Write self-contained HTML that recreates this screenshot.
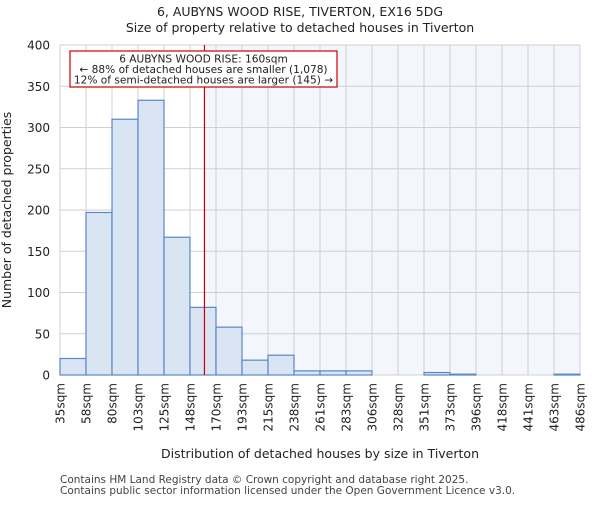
<!DOCTYPE html>
<html><head><meta charset="utf-8"><style>
body{margin:0;background:#fff;font-family:"Liberation Sans","DejaVu Sans",sans-serif}
</style></head><body>
<svg id="c" width="600" height="500" xmlns="http://www.w3.org/2000/svg" font-family="DejaVu Sans, Liberation Sans, sans-serif"></svg>
<script>
const labels=["35sqm","58sqm","80sqm","103sqm","125sqm","148sqm","170sqm","193sqm","215sqm","238sqm","261sqm","283sqm","306sqm","328sqm","351sqm","373sqm","396sqm","418sqm","441sqm","463sqm","486sqm"];
const counts=[20,197,310,333,167,82,58,18,24,5,5,5,0,0,3,1,0,0,0,1];
const yTicks=[0,50,100,150,200,250,300,350,400];
const marker=160;
const edges=[35,57.5,80,102.5,125,147.5,170,192.5,215,237.5,260,282.5,305,327.5,350,372.5,395,417.5,440,462.5,485];
const L=60,R=580,T=45,B=375,N=counts.length,bw=(R-L)/N;
const ns="http://www.w3.org/2000/svg",s=document.getElementById('c');
function el(t,a,txt){const e=document.createElementNS(ns,t);for(const k in a)e.setAttribute(k,a[k]);if(txt!==undefined)e.textContent=txt;s.appendChild(e);return e;}
const y=v=>B-(v/400)*(B-T);
const xi=i=>L+i*bw;
function xv(v){for(let i=0;i<edges.length-1;i++){if(v<=edges[i+1])return xi(i)+(v-edges[i])/(edges[i+1]-edges[i])*bw;}return R;}
const mx=xv(marker);
let e=el('rect',{x:mx,y:T,width:R-mx,height:B-T,fill:'#f3f6fd'});


for(let i=0;i<=N;i++){e=el('line',{x1:xi(i),x2:xi(i),y1:T,y2:B,stroke:'#d0d0d0','stroke-width':1});

}
yTicks.forEach(t=>{e=el('line',{x1:L,x2:R,y1:y(t),y2:y(t),stroke:'#d0d0d0','stroke-width':1});


e=el('text',{x:L-10,y:y(t)+4.5,'text-anchor':'end','font-size':12,fill:'#222'},t);

});
counts.forEach((c,i)=>{e=el('rect',{x:xi(i),y:y(c),width:bw,height:B-y(c),fill:'#dae5f4',stroke:'#5a86c8','stroke-width':1.2});

});
labels.forEach((l,i)=>{e=el('text',{transform:`translate(${xi(i)+4.5},${B+8}) rotate(-90)`,'text-anchor':'end','font-size':12,fill:'#222'},l);

});
e=el('line',{x1:mx,x2:mx,y1:T,y2:B,stroke:'#cc0000','stroke-width':1.2});


e=el('rect',{x:70,y:51,width:267,height:36,fill:'#fff',stroke:'#cc0000','stroke-width':1.2});


["6 AUBYNS WOOD RISE: 160sqm","← 88% of detached houses are smaller (1,078)","12% of semi-detached houses are larger (145) →"].forEach((t,i)=>{
e=el('text',{x:203.5,y:62.5+i*10.5,'text-anchor':'middle','font-size':10.6,fill:'#222'},t);

});
e=el('text',{x:300,y:16,'text-anchor':'middle','font-size':12.5,fill:'#222'},"6, AUBYNS WOOD RISE, TIVERTON, EX16 5DG");


e=el('text',{x:300,y:32,'text-anchor':'middle','font-size':12.5,fill:'#222'},"Size of property relative to detached houses in Tiverton");


e=el('text',{x:320,y:458,'text-anchor':'middle','font-size':12.5,fill:'#222'},"Distribution of detached houses by size in Tiverton");


e=el('text',{transform:'translate(11,210) rotate(-90)','text-anchor':'middle','font-size':12.5,fill:'#222'},"Number of detached properties");


e=el('text',{x:60,y:483,'font-size':10.5,fill:'#444'},"Contains HM Land Registry data © Crown copyright and database right 2025.");


e=el('text',{x:60,y:494,'font-size':10.5,fill:'#444'},"Contains public sector information licensed under the Open Government Licence v3.0.");


</script>
</body></html>
